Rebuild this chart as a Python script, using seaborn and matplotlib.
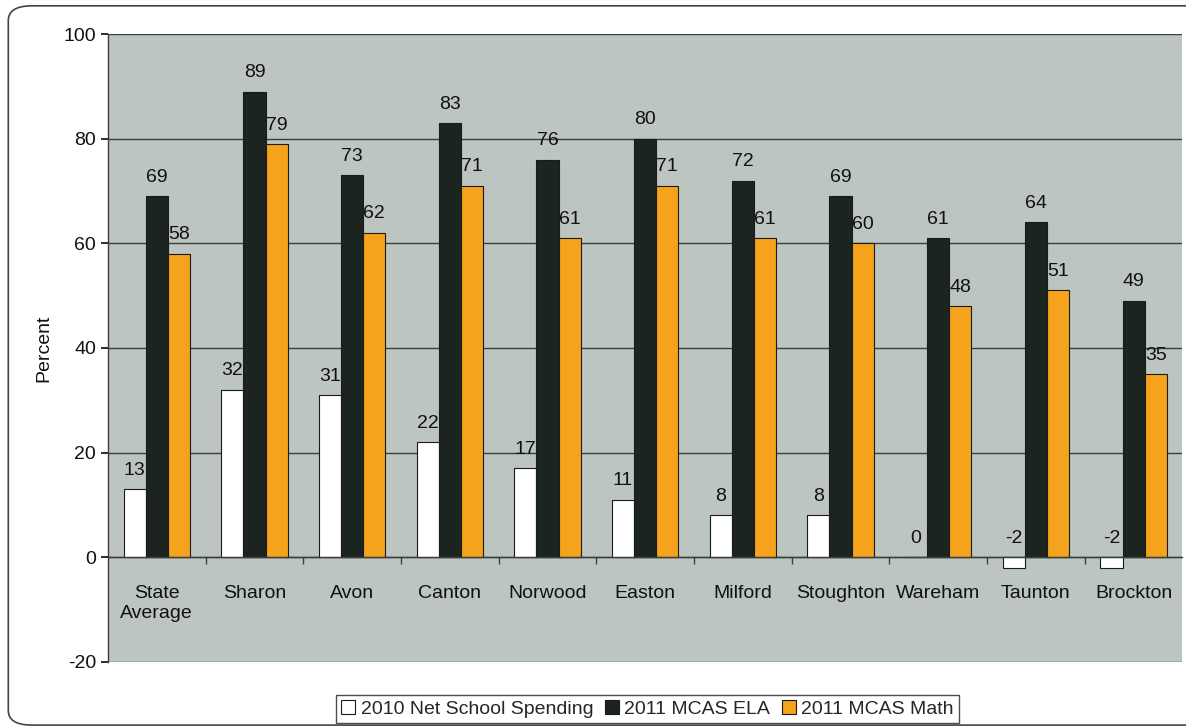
import matplotlib
matplotlib.use("Agg")
import matplotlib.pyplot as plt
import seaborn as sns
import pandas as pd
import numpy as np
from matplotlib.patches import FancyBboxPatch, Patch

categories = ["State\nAverage", "Sharon", "Avon", "Canton", "Norwood", "Easton",
              "Milford", "Stoughton", "Wareham", "Taunton", "Brockton"]
spending_2010 = [13, 32, 31, 22, 17, 11, 8, 8, 0, -2, -2]
mcas_ela_2011 = [69, 89, 73, 83, 76, 80, 72, 69, 61, 64, 49]
mcas_math_2011 = [58, 79, 62, 71, 61, 71, 61, 60, 48, 51, 35]
series_names = ["2010 Net School Spending", "2011 MCAS ELA", "2011 MCAS Math"]
colors = ["#ffffff", "#1c2420", "#f5a31c"]

rows = []
for name, vals in zip(series_names, [spending_2010, mcas_ela_2011, mcas_math_2011]):
    for c, v in zip(categories, vals):
        rows.append({"Town": c, "Series": name, "Percent": v})
df = pd.DataFrame(rows)

sns.set_theme(style="white")
plt.rcParams["font.family"] = ["Liberation Sans", "DejaVu Sans"]
plt.rcParams["axes.unicode_minus"] = False

FS = 14

fig = plt.figure(figsize=(11.86, 7.28), dpi=100)
ax = fig.add_axes([0.091, 0.091, 0.906, 0.862])
ax.set_facecolor("#bcc5c0")

sns.barplot(data=df, x="Town", y="Percent", hue="Series", palette=colors,
            width=0.68, edgecolor="#1a1a1a", linewidth=0.8, saturation=1,
            ax=ax, legend=False)

ax.set_ylim(-20, 100)
ax.set_xlim(-0.5, len(categories) - 0.5)
ax.set_yticks(range(-20, 101, 20))
ax.grid(axis="y", color="#3a3f3c", linewidth=1.0)
ax.set_axisbelow(True)

# x axis sits at zero
ax.spines["bottom"].set_position(("data", 0))
ax.spines["bottom"].set_color("#3a3f3c")
ax.spines["bottom"].set_linewidth(1.0)
ax.spines["bottom"].set_zorder(1)
ax.set_xticks(np.arange(len(categories) - 1) + 0.5, minor=True)
ax.tick_params(axis="x", which="minor", length=5, width=1.0, color="#3a3f3c",
               direction="out", bottom=True)
ax.tick_params(axis="x", which="major", length=0, labelsize=FS, pad=20, colors="#111111")

for sp in ["top", "right"]:
    ax.spines[sp].set_visible(False)
ax.spines["left"].set_color("#3a3f3c")
ax.spines["left"].set_linewidth(1.0)

ax.tick_params(axis="y", length=5, labelsize=FS, colors="#111111", left=True, direction="out")
ax.set_xlabel("")
ax.set_ylabel("Percent", fontsize=FS, color="#111111", labelpad=8)

for cont in ax.containers:
    for bar in cont:
        h = bar.get_height()
        x = bar.get_x() + bar.get_width() / 2
        ax.text(x, max(h, 0) + 2.0, f"{int(round(h))}", ha="center", va="bottom",
                fontsize=FS, color="#111111")

handles = [Patch(facecolor=c, edgecolor="#1a1a1a", linewidth=0.8) for c in colors]
leg = fig.legend(handles, series_names, loc="center", bbox_to_anchor=(0.546, 0.026),
                 ncol=3, frameon=True, fontsize=FS, handlelength=0.7, handleheight=0.7,
                 handletextpad=0.3, columnspacing=0.6, borderpad=0.25, fancybox=False)
leg.get_frame().set_edgecolor("#222222")
leg.get_frame().set_linewidth(1.0)

border = FancyBboxPatch((0.007, 0.004), 1.05, 0.988, transform=fig.transFigure,
                        boxstyle="round,pad=0,rounding_size=0.02", facecolor="none",
                        edgecolor="#444444", linewidth=1.2, clip_on=False)
fig.patches.append(border)

fig.savefig("out.png", dpi=100)
